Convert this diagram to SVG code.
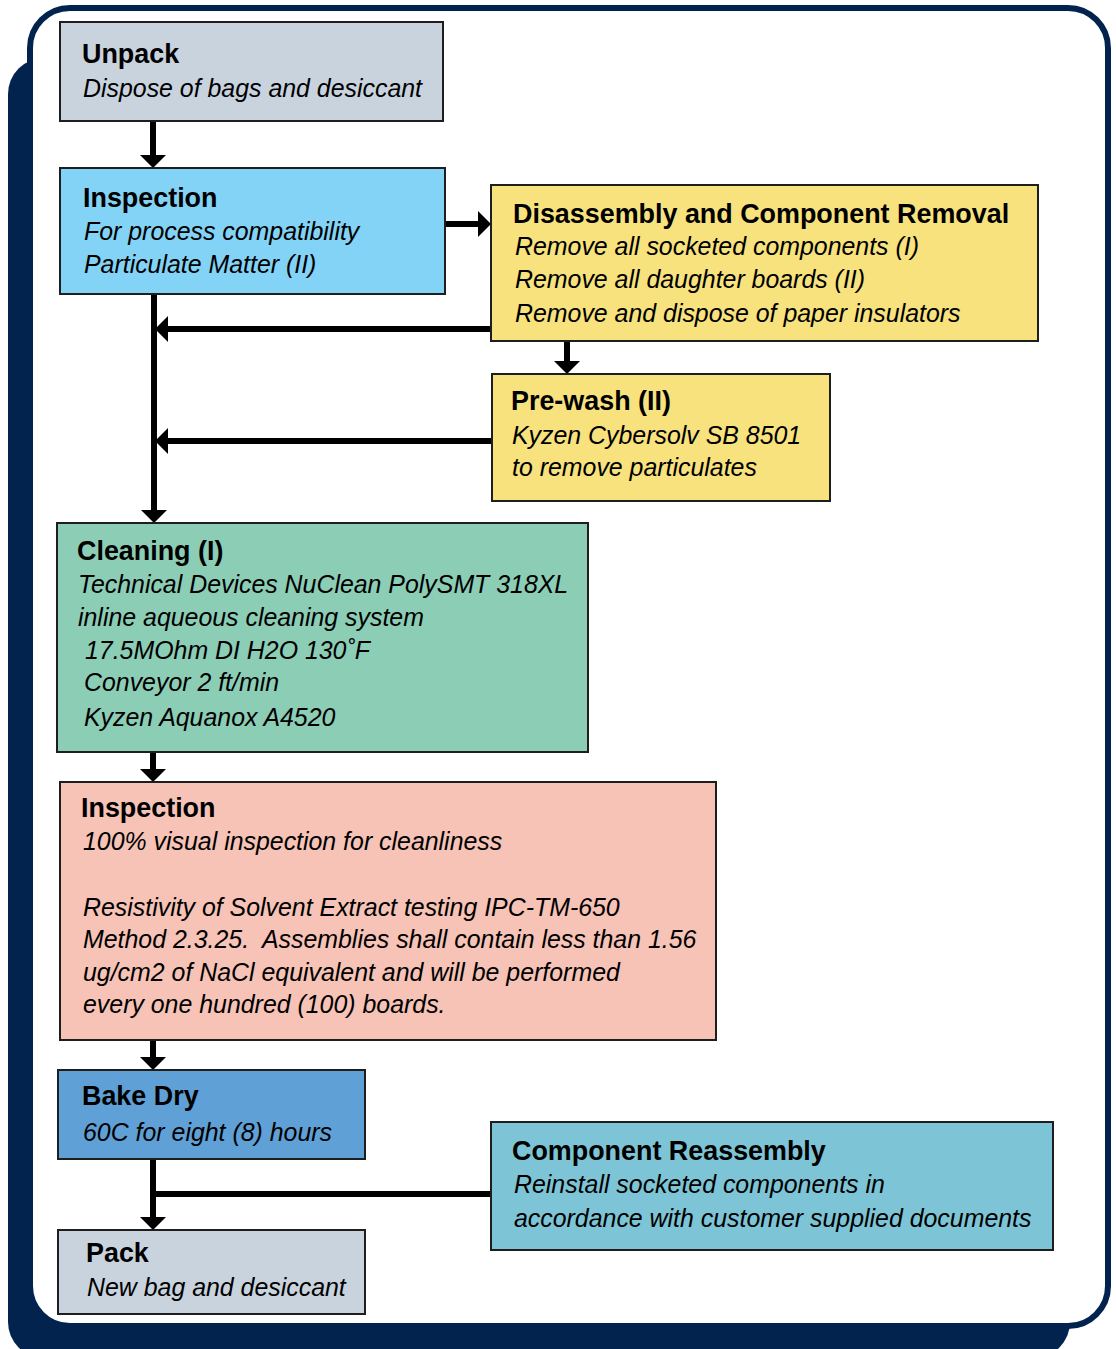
<svg xmlns="http://www.w3.org/2000/svg" width="1116" height="1349" viewBox="0 0 1116 1349">
<style>
  .box { stroke: #1e1e1e; stroke-width: 2; }
  .t { font-family: "Liberation Sans", Arial, sans-serif; font-weight: bold; font-size: 26.9px; fill: #000; }
  .b { font-family: "Liberation Sans", Arial, sans-serif; font-style: italic; font-size: 24.9px; fill: #000; }
  .c { fill: none; stroke: #000; stroke-width: 6; }
</style>
<defs>
  <marker id="ah" viewBox="0 0 13 26" refX="0" refY="13" markerWidth="13" markerHeight="26" orient="auto" markerUnits="userSpaceOnUse">
    <path d="M0,0 L13,13 L0,26 Z" fill="#000"/>
  </marker>
</defs>
<g id="frame">
  <rect x="8" y="58" width="1062" height="1300" rx="36" fill="#03234F"/>
  <rect x="30" y="8" width="1078" height="1318" rx="40" fill="#fff" stroke="#03234F" stroke-width="6"/>
</g>
<g id="connectors">
  <path class="c" d="M153,121 V155" marker-end="url(#ah)"/>
  <path class="c" d="M445,224 H478" marker-end="url(#ah)"/>
  <path class="c" d="M154,294 V510" marker-end="url(#ah)"/>
  <path class="c" d="M491,329 H168" marker-end="url(#ah)"/>
  <path class="c" d="M492,441 H168" marker-end="url(#ah)"/>
  <path class="c" d="M567,341 V361" marker-end="url(#ah)"/>
  <path class="c" d="M153,752 V769" marker-end="url(#ah)"/>
  <path class="c" d="M153,1040 V1057" marker-end="url(#ah)"/>
  <path class="c" d="M153,1159 V1217" marker-end="url(#ah)"/>
  <path class="c" d="M491,1194 H153"/>
</g>
<g id="unpack">
  <rect class="box" x="60" y="22" width="383" height="99" fill="#C8D3DE"/>
  <text class="t" x="82" y="63">Unpack</text>
  <text class="b" x="83" y="97">Dispose of bags and desiccant</text>
</g>
<g id="inspection1">
  <rect class="box" x="60" y="168" width="385" height="126" fill="#83D3F6"/>
  <text class="t" x="83" y="207">Inspection</text>
  <text class="b" x="84" y="240">For process compatibility</text>
  <text class="b" x="84" y="273">Particulate Matter (II)</text>
</g>
<g id="disassembly">
  <rect class="box" x="491" y="185" width="547" height="156" fill="#F7E27E"/>
  <text class="t" x="513" y="223">Disassembly and Component Removal</text>
  <text class="b" x="515" y="255">Remove all socketed components (I)</text>
  <text class="b" x="515" y="288">Remove all daughter boards (II)</text>
  <text class="b" x="515" y="322">Remove and dispose of paper insulators</text>
</g>
<g id="prewash">
  <rect class="box" x="492" y="374" width="338" height="127" fill="#F7E27E"/>
  <text class="t" x="511" y="410">Pre-wash (II)</text>
  <text class="b" x="512" y="444">Kyzen Cybersolv SB 8501</text>
  <text class="b" x="512" y="476">to remove particulates</text>
</g>
<g id="cleaning">
  <rect class="box" x="57" y="523" width="531" height="229" fill="#8CCDB6"/>
  <text class="t" x="77" y="560">Cleaning (I)</text>
  <text class="b" x="78" y="593">Technical Devices NuClean PolySMT 318XL</text>
  <text class="b" x="78" y="626">inline aqueous cleaning system</text>
  <text class="b" x="85" y="659">17.5MOhm DI H2O 130˚F</text>
  <text class="b" x="84" y="691">Conveyor 2 ft/min</text>
  <text class="b" x="84" y="726">Kyzen Aquanox A4520</text>
</g>
<g id="inspection2">
  <rect class="box" x="60" y="782" width="656" height="258" fill="#F6C3B6"/>
  <text class="t" x="81" y="817">Inspection</text>
  <text class="b" x="83" y="850">100% visual inspection for cleanliness</text>
  <text class="b" x="83" y="916">Resistivity of Solvent Extract testing IPC-TM-650</text>
  <text class="b" x="83" y="948" xml:space="preserve">Method 2.3.25.  Assemblies shall contain less than 1.56</text>
  <text class="b" x="83" y="981">ug/cm2 of NaCl equivalent and will be performed</text>
  <text class="b" x="83" y="1013">every one hundred (100) boards.</text>
</g>
<g id="bakedry">
  <rect class="box" x="58" y="1070" width="307" height="89" fill="#5FA0D6"/>
  <text class="t" x="82" y="1105">Bake Dry</text>
  <text class="b" x="83" y="1141">60C for eight (8) hours</text>
</g>
<g id="reassembly">
  <rect class="box" x="491" y="1122" width="562" height="128" fill="#7DC5D6"/>
  <text class="t" x="512" y="1160">Component Reassembly</text>
  <text class="b" x="514" y="1193">Reinstall socketed components in</text>
  <text class="b" x="514" y="1227">accordance with customer supplied documents</text>
</g>
<g id="pack">
  <rect class="box" x="58" y="1230" width="307" height="84" fill="#C8D3DE"/>
  <text class="t" x="86" y="1262">Pack</text>
  <text class="b" x="87" y="1296">New bag and desiccant</text>
</g>
</svg>
